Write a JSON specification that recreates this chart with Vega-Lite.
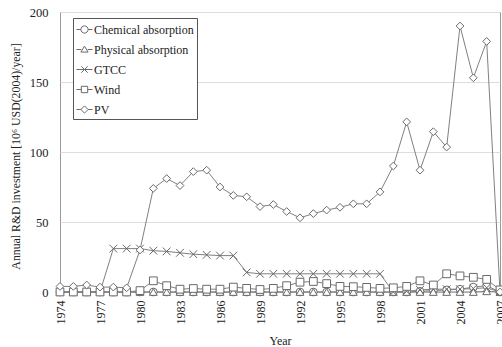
{
  "$schema": "https://vega.github.io/schema/vega-lite/v6.json",
  "width": 440,
  "height": 280,
  "autosize": {"type": "none"},
  "padding": {"left": 60, "top": 12, "right": 2, "bottom": 55},
  "background": "white",
  "config": {
    "view": {"stroke": "#999999", "strokeWidth": 1},
    "font": "Liberation Serif",
    "axis": {"labelFont": "Liberation Serif", "titleFont": "Liberation Serif", "labelColor": "#222222", "titleColor": "#222222", "titleFontWeight": "normal", "domain": false, "ticks": false, "tickSize": 0}
  },
  "data": {"values": [
    {"Year": 1974, "Chemical absorption": 0, "Physical absorption": 0, "GTCC": 0, "Wind": 0, "PV": 4},
    {"Year": 1975, "Chemical absorption": 0, "Physical absorption": 0, "GTCC": 0, "Wind": 0, "PV": 4},
    {"Year": 1976, "Chemical absorption": 0, "Physical absorption": 0, "GTCC": 0, "Wind": 0, "PV": 5},
    {"Year": 1977, "Chemical absorption": 0, "Physical absorption": 0, "GTCC": 0, "Wind": 0, "PV": 3.5},
    {"Year": 1978, "Chemical absorption": 0, "Physical absorption": 0, "GTCC": 31, "Wind": 0, "PV": 3.5},
    {"Year": 1979, "Chemical absorption": 0, "Physical absorption": 0, "GTCC": 31, "Wind": 0, "PV": 3},
    {"Year": 1980, "Chemical absorption": 0, "Physical absorption": 0, "GTCC": 31, "Wind": 1, "PV": 30},
    {"Year": 1981, "Chemical absorption": 0, "Physical absorption": 0, "GTCC": 29.5, "Wind": 8, "PV": 74},
    {"Year": 1982, "Chemical absorption": 0, "Physical absorption": 0, "GTCC": 29, "Wind": 4.5, "PV": 81},
    {"Year": 1983, "Chemical absorption": 0, "Physical absorption": 0, "GTCC": 28, "Wind": 2, "PV": 76},
    {"Year": 1984, "Chemical absorption": 0, "Physical absorption": 0, "GTCC": 27, "Wind": 2.5, "PV": 86},
    {"Year": 1985, "Chemical absorption": 0, "Physical absorption": 0, "GTCC": 26.5, "Wind": 2, "PV": 87},
    {"Year": 1986, "Chemical absorption": 0, "Physical absorption": 0, "GTCC": 26, "Wind": 2, "PV": 75},
    {"Year": 1987, "Chemical absorption": 0, "Physical absorption": 0, "GTCC": 26, "Wind": 3.5, "PV": 69},
    {"Year": 1988, "Chemical absorption": 0, "Physical absorption": 0, "GTCC": 14, "Wind": 2.6, "PV": 68},
    {"Year": 1989, "Chemical absorption": 0, "Physical absorption": 0, "GTCC": 13, "Wind": 1.8, "PV": 61},
    {"Year": 1990, "Chemical absorption": 0, "Physical absorption": 0, "GTCC": 13, "Wind": 2.6, "PV": 62.5},
    {"Year": 1991, "Chemical absorption": 0, "Physical absorption": 0, "GTCC": 13, "Wind": 4.5, "PV": 57.5},
    {"Year": 1992, "Chemical absorption": 0, "Physical absorption": 0, "GTCC": 13, "Wind": 7, "PV": 53},
    {"Year": 1993, "Chemical absorption": 0, "Physical absorption": 0, "GTCC": 13, "Wind": 7.5, "PV": 56},
    {"Year": 1994, "Chemical absorption": 0, "Physical absorption": 0, "GTCC": 13, "Wind": 6, "PV": 58.5},
    {"Year": 1995, "Chemical absorption": 0, "Physical absorption": 0, "GTCC": 13, "Wind": 4, "PV": 60.5},
    {"Year": 1996, "Chemical absorption": 0, "Physical absorption": 0, "GTCC": 13, "Wind": 3.8, "PV": 63},
    {"Year": 1997, "Chemical absorption": 0, "Physical absorption": 0, "GTCC": 13, "Wind": 3.3, "PV": 63},
    {"Year": 1998, "Chemical absorption": 0, "Physical absorption": 0, "GTCC": 13, "Wind": 2.6, "PV": 71.5},
    {"Year": 1999, "Chemical absorption": 0, "Physical absorption": 0, "GTCC": 0, "Wind": 3, "PV": 90},
    {"Year": 2000, "Chemical absorption": 0, "Physical absorption": 0, "GTCC": 0.5, "Wind": 4, "PV": 121.5},
    {"Year": 2001, "Chemical absorption": 0.5, "Physical absorption": 0, "GTCC": 1.5, "Wind": 8, "PV": 87},
    {"Year": 2002, "Chemical absorption": 1, "Physical absorption": 0, "GTCC": 2, "Wind": 5, "PV": 114.5},
    {"Year": 2003, "Chemical absorption": 1.5, "Physical absorption": 0, "GTCC": 2, "Wind": 13, "PV": 103.5},
    {"Year": 2004, "Chemical absorption": 2, "Physical absorption": 0, "GTCC": 2, "Wind": 11.5, "PV": 190},
    {"Year": 2005, "Chemical absorption": 3.5, "Physical absorption": 0, "GTCC": 2.5, "Wind": 10.5, "PV": 153},
    {"Year": 2006, "Chemical absorption": 4.5, "Physical absorption": 0.5, "GTCC": 3, "Wind": 9, "PV": 179},
    {"Year": 2007, "Chemical absorption": 0, "Physical absorption": 0, "GTCC": 0, "Wind": 1.5, "PV": 0}
  ]},
  "transform": [
    {"fold": ["Chemical absorption", "Physical absorption", "GTCC", "Wind", "PV"], "as": ["series", "value"]}
  ],
  "encoding": {
    "x": {
      "field": "Year", "type": "quantitative",
      "scale": {"domain": [1974, 2007], "nice": false, "zero": false},
      "axis": {
        "values": [1974, 1977, 1980, 1983, 1986, 1989, 1992, 1995, 1998, 2001, 2004, 2007],
        "format": "d", "labelAngle": -90, "labelFontSize": 12, "labelPadding": 8,
        "grid": false, "title": "Year", "titleFontSize": 12, "titleY": 48, "titleBaseline": "middle"
      }
    },
    "y": {
      "field": "value", "type": "quantitative",
      "scale": {"domain": [0, 200], "nice": false},
      "axis": {
        "values": [0, 50, 100, 150, 200], "labelFontSize": 12.5, "labelPadding": 12,
        "grid": true, "gridColor": "#dddddd", "gridWidth": 1,
        "title": "Annual R&D investment [10⁶ USD(2004)/year]", "titleFontSize": 11.8,
        "titleX": -45, "titleY": 144, "titleAngle": -90, "titleAlign": "center", "titleBaseline": "middle"
      }
    }
  },
  "layer": [
    {
      "mark": {"type": "line", "color": "#808080", "strokeWidth": 1},
      "encoding": {"detail": {"field": "series"}, "order": {"field": "Year"}}
    },
    {
      "mark": {"type": "point", "filled": true, "fill": "white", "stroke": "#6a6a6a", "strokeWidth": 1, "size": 60, "opacity": 1},
      "encoding": {
        "shape": {
          "field": "series",
          "scale": {
            "domain": ["Chemical absorption", "Physical absorption", "GTCC", "Wind", "PV"],
            "range": ["circle", "triangle-up", "M-1,-1L1,1M-1,1L1,-1", "square", "diamond"]
          },
          "legend": null
        }
      }
    },
    {
      "mark": {"type": "point", "filled": false, "stroke": "#6a6a6a", "strokeWidth": 1, "opacity": 0},
      "encoding": {
        "shape": {
          "field": "series",
          "scale": {
            "domain": ["Chemical absorption", "Physical absorption", "GTCC", "Wind", "PV"],
            "range": [
              "M-1,0L-0.45,0M0.45,0L1,0M-0.45,0A0.45,0.45,0,1,1,0.45,0A0.45,0.45,0,1,1,-0.45,0Z",
              "M-1,0L-0.4,0M0.4,0L1,0M0,-0.42L0.45,0.32L-0.45,0.32Z",
              "M-1,0L1,0M-0.4,-0.4L0.4,0.4M-0.4,0.4L0.4,-0.4",
              "M-1,0L-0.4,0M0.4,0L1,0M-0.4,-0.4L0.4,-0.4L0.4,0.4L-0.4,0.4Z",
              "M-1,0L-0.45,0M0.45,0L1,0M0,-0.45L0.45,0L0,0.45L-0.45,0Z"
            ]
          },
          "legend": {
            "title": null, "orient": "none", "legendX": 13, "legendY": 6,
            "symbolSize": 256, "symbolOpacity": 1, "symbolStrokeColor": "#6a6a6a", "symbolFillColor": "white", "symbolStrokeWidth": 1,
            "labelFont": "Liberation Serif", "labelFontSize": 12, "labelColor": "#222222", "labelOffset": 1,
            "rowPadding": 5, "padding": 3, "strokeColor": "#555555", "fillColor": "white"
          }
        }
      }
    }
  ],
  "resolve": {"scale": {"shape": "independent"}, "legend": {"shape": "independent"}}
}
